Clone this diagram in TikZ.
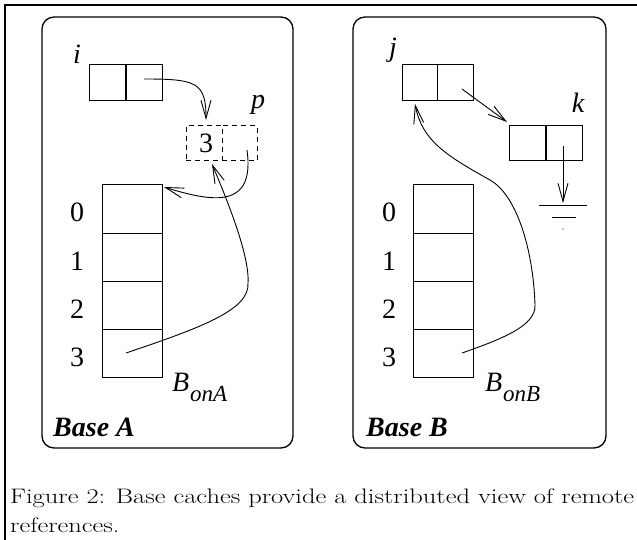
\documentclass[tikz,border=0pt]{standalone}
\usepackage{fontspec}
\newfontfamily\tms{Liberation Serif}
\usetikzlibrary{arrows.meta,calc}
\begin{document}
\begin{tikzpicture}[x=1pt,y=-1pt,
  cell/.style={draw,line width=1pt,inner sep=0,minimum width=36pt,minimum height=36pt},
  dcell/.style={cell,dash pattern=on 5pt off 4pt},
  acell/.style={draw,line width=1pt,inner sep=0,minimum width=60pt,minimum height=48pt},
  lbl/.style={inner sep=0,anchor=base,font=\tms\fontsize{28}{30}\selectfont\itshape},
  num/.style={inner sep=0,anchor=base,font=\tms\fontsize{28}{30}\selectfont},
  basettl/.style={inner sep=0,anchor=base west,font=\tms\fontsize{28}{30}\selectfont\bfseries\itshape},
  subl/.style={inner sep=0,anchor=base west,font=\tms\fontsize{23}{24}\selectfont\itshape},
  panel/.style={draw,line width=1.3pt,rounded corners=12pt,inner sep=0},
  conn/.style={line width=0.9pt,-{Straight Barb[length=18pt,width=10pt,line width=0.9pt]}},
  plain/.style={line width=0.9pt},
  capt/.style={inner sep=0,anchor=base west,font=\fontsize{21}{29}\selectfont}
]
\useasboundingbox (0,0) rectangle (637,540);
\clip (0,0) rectangle (637,540);
% outer frame (cropped)
\draw[line width=2pt] (5,570) -- (5,5) -- (670,5);

% panels
\node[panel,minimum width=251pt,minimum height=431pt] (panelA) at (167.5,232.5) {};
\node[panel,minimum width=253pt,minimum height=431pt] (panelB) at (479.5,232.5) {};

% ---------------- Base A ----------------
\node[cell] (i1) at (107.5,83) {};
\node[cell] (i2) at (144,83) {};
\node[lbl] (ilbl) at (77,64) {i};

\node[dcell,minimum width=36pt,minimum height=35pt] (p1) at (204,143.5) {};
\node[dcell,minimum width=35pt,minimum height=35pt] (p2) at (239.5,143.5) {};
\node[num] (p1val) at (206,153) {3};
\node[lbl] (plbl) at (258,109) {p};

\node[acell] (a0) at (132,209) {};
\node[acell] (a1) at (132,257) {};
\node[acell] (a2) at (132,305) {};
\node[acell] (a3) at (132,353) {};
\node[num] (la0) at (77,222) {0};
\node[num] (la1) at (77,270) {1};
\node[num] (la2) at (77,318) {2};
\node[num] (la3) at (77,366) {3};
\node[lbl,anchor=base west] (bA) at (172,391) {B};
\node[subl] (bAsub) at (190,401) {onA};
\node[basettl] (titleA) at (53,436) {Base A};

% connectors A
\coordinate (iend) at (206,120);
\draw[conn] (i2.center) ++(0,-4) .. controls (196,79) and (206,82) .. (iend);
\coordinate (pstart) at (247,150);
\coordinate (aTR) at (164,187);
\draw[conn] (pstart) .. controls (255,208) and (215,203) .. (aTR);
\coordinate (a3s) at (126,353);
\coordinate (amid) at (248,283);
\coordinate (p1b) at (212,164);
\draw[conn] (a3s) .. controls (200,328) and (250,310) .. (amid)
               .. controls (250,255) and (225,195) .. (p1b);

% ---------------- Base B ----------------
\node[cell,minimum width=35pt] (j1) at (419.5,83) {};
\node[cell] (j2) at (455,83) {};
\node[lbl] (jlbl) at (393,57) {j};

\node[cell,minimum height=35pt] (k1) at (527.5,143.5) {};
\node[cell,minimum height=35pt] (k2) at (564,143.5) {};
\node[lbl] (klbl) at (578,113) {k};

\coordinate (jstart) at (462,89);
\coordinate (kend) at (507,122);
\draw[conn] (jstart) -- (kend);

\coordinate (kstart) at (563,146);
\coordinate (gnd) at (563,203);
\draw[conn] (kstart) -- (gnd);
\draw[plain] (539,205) -- (587,205);
\draw[plain] (552,217) -- (576,217);
\fill (563,229) circle (0.6pt);

\node[acell] (b0) at (443,209) {};
\node[acell] (b1) at (443,257) {};
\node[acell] (b2) at (443,305) {};
\node[acell] (b3) at (443,353) {};
\node[num] (lb0) at (389,222) {0};
\node[num] (lb1) at (389,270) {1};
\node[num] (lb2) at (389,318) {2};
\node[num] (lb3) at (389,366) {3};
\node[lbl,anchor=base west] (bB) at (485,391) {B};
\node[subl] (bBsub) at (503,401) {onB};
\node[basettl] (titleB) at (366,436) {Base B};

\coordinate (b3s) at (462,353);
\coordinate (bm1) at (535,305);
\coordinate (bm2) at (490,180);
\coordinate (j1b) at (415,104);
\draw[conn] (b3s) .. controls (505,338) and (536,325) .. (bm1)
               .. controls (533,245) and (515,194) .. (bm2)
               .. controls (445,155) and (422,140) .. (j1b);

% caption
\node[capt] (cap1) at (10,503) {\scalebox{1.26}[1]{Figure 2: Base caches provide a distributed view of remote}};
\node[capt] (cap2) at (10,532) {\scalebox{1.26}[1]{references.}};
\end{tikzpicture}
\end{document}
